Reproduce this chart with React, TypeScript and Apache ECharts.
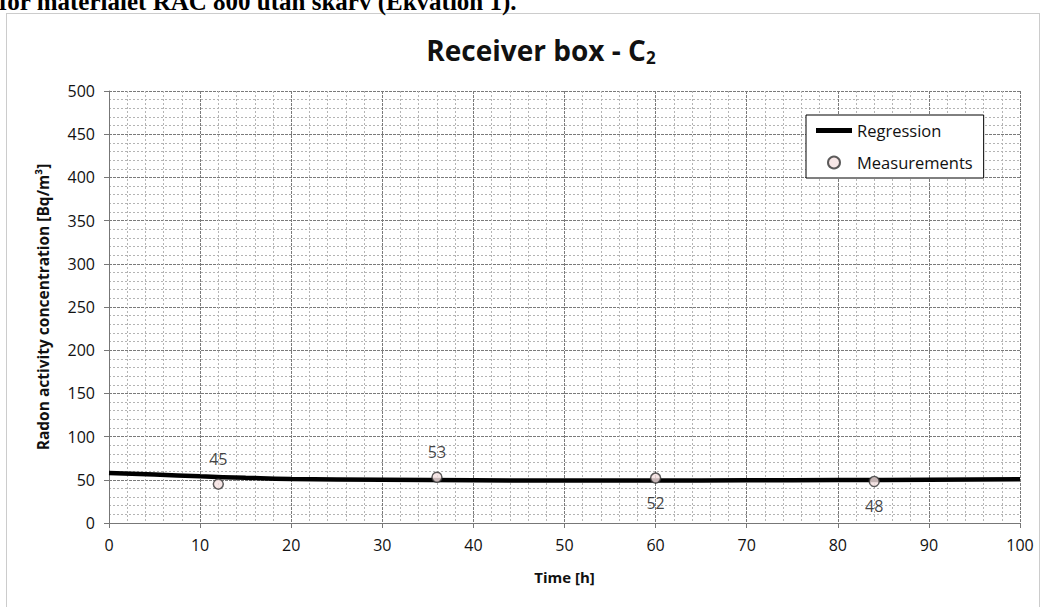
import React, { useEffect, useRef } from "react";
import * as echarts from "echarts";

const regressionHours = [0, 5, 10, 15, 20, 30, 40, 50, 60, 70, 80, 90, 100];
const regressionValues = [58, 56, 54, 52.3, 51, 50, 49.5, 49.2, 49.2, 49.4, 49.7, 50.1, 50.6];
const measurementHours = [12, 36, 60, 84];
const measurementValues = [45, 53, 52, 48];
const labelBelow = [false, false, true, true];
const xTicks = [0, 10, 20, 30, 40, 50, 60, 70, 80, 90, 100];
const yTicks = [0, 50, 100, 150, 200, 250, 300, 350, 400, 450, 500];

const FONT = "'Open Sans', 'Noto Sans', sans-serif";

export default function App() {
  const ref = useRef<HTMLDivElement>(null);
  useEffect(() => {
    if (!ref.current) return;
    const chart = echarts.init(ref.current, undefined, { renderer: "svg" });
    const option: any = {
      animation: false,
      backgroundColor: "#ffffff",
      textStyle: { fontFamily: FONT },
      title: {
        text: "{a|Receiver box - C}{b|2}",
        left: 536,
        top: 28,
        textAlign: "center",
        textStyle: {
          rich: {
            a: { fontFamily: FONT, fontWeight: "bold", fontSize: 28, color: "#111" },
            b: { fontFamily: FONT, fontWeight: "bold", fontSize: 17, color: "#111", padding: [16, 0, 0, 0] },
          },
        },
      },
      graphic: [
        {
          type: "rect",
          shape: { x: 6.5, y: 13.5, width: 1033, height: 600 },
          style: { fill: "none", stroke: "#999", lineWidth: 1, lineDash: [1, 1] },
          silent: true,
          z: -1,
        },
        {
          type: "text",
          x: -1,
          y: 14,
          style: {
            text: "för materialet RAC 800 utan skarv (Ekvation 1).",
            font: "bold 25px 'Liberation Serif', 'DejaVu Serif', serif",
            fill: "#000",
            verticalAlign: "bottom",
            align: "left",
          },
          silent: true,
        },
      ],
      legend: {
        orient: "vertical",
        left: 806,
        top: 115,
        padding: [7, 11, 7, 10],
        itemGap: 15,
        itemWidth: 36,
        itemHeight: 12,
        backgroundColor: "#fff",
        borderColor: "#000",
        borderWidth: 1,
        textStyle: { fontFamily: FONT, fontSize: 16.5, color: "#111", padding: [0, 0, 0, 0] },
        data: [
          { name: "Regression", icon: "path://M0,0 H36 V5 H0 Z", itemStyle: { color: "#000" } },
          { name: "Measurements" },
        ],
      },
      grid: { left: 109, top: 91, width: 911, height: 432, containLabel: false },
      xAxis: {
        type: "value",
        min: 0,
        max: 100,
        interval: 10,
        name: "Time [h]",
        nameLocation: "middle",
        nameGap: 46,
        nameTextStyle: { fontFamily: FONT, fontWeight: "bold", fontSize: 15, color: "#111" },
        axisLine: { show: true, lineStyle: { color: "#777", width: 1 } },
        axisTick: { show: true, length: 5, lineStyle: { color: "#777" } },
        axisLabel: {
          fontFamily: FONT,
          fontSize: 16,
          color: "#111",
          margin: 14,
          formatter: (v: number) => (xTicks.includes(v) ? String(v) : ""),
        },
        splitLine: { show: true, lineStyle: { color: "#7a7a7a", width: 1, type: [3, 1] } },
        minorTick: { show: false, splitNumber: 5 },
        minorSplitLine: { show: true, lineStyle: { color: "#b4b4b4", width: 1, type: [2, 2] } },
      },
      yAxis: {
        type: "value",
        min: 0,
        max: 500,
        interval: 50,
        name: "Radon activity concentration [Bq/m³]",
        nameLocation: "middle",
        nameGap: 58,
        nameTextStyle: { fontFamily: FONT, fontWeight: "bold", fontSize: 15.5, color: "#111" },
        axisLine: { show: true, lineStyle: { color: "#777", width: 1 } },
        axisTick: { show: true, length: 5, lineStyle: { color: "#777" } },
        axisLabel: {
          fontFamily: FONT,
          fontSize: 16,
          color: "#111",
          margin: 14,
          formatter: (v: number) => (yTicks.includes(v) ? String(v) : ""),
        },
        splitLine: { show: true, lineStyle: { color: "#7a7a7a", width: 1, type: [3, 1] } },
        minorTick: { show: false, splitNumber: 5 },
        minorSplitLine: { show: true, lineStyle: { color: "#b4b4b4", width: 1, type: [2, 2] } },
      },
      series: [
        {
          name: "Regression",
          type: "line",
          smooth: true,
          showSymbol: false,
          symbol: "none",
          data: regressionHours.map((h, i) => [h, regressionValues[i]]),
          lineStyle: { color: "#000", width: 4.5 },
          itemStyle: { color: "#000" },
          z: 3,
        },
        {
          name: "Measurements",
          type: "scatter",
          symbol: "circle",
          symbolSize: 10,
          itemStyle: { color: "#f5e1e1", borderColor: "#333", borderWidth: 1.5 },
          data: measurementHours.map((h, i) => ({
            value: [h, measurementValues[i]],
            label: {
              show: true,
              position: labelBelow[i] ? "bottom" : "top",
              distance: 11,
              formatter: String(measurementValues[i]),
              fontFamily: FONT,
              fontSize: 16,
              color: "#111",
            },
          })),
          z: 4,
        },
      ],
    };
    chart.setOption(option);
    return () => chart.dispose();
  }, []);
  return (
    <div
      ref={ref}
      style={{ position: "absolute", left: 0, top: 0, width: 1042, height: 607 }}
    />
  );
}
